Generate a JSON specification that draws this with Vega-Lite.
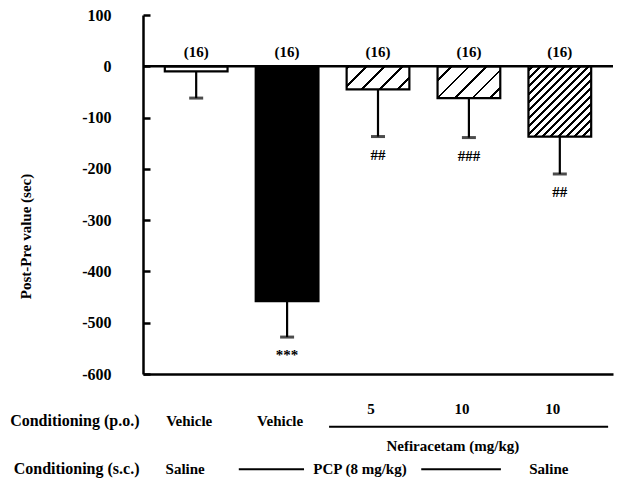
{
  "$schema": "https://vega.github.io/schema/vega-lite/v6.json",
  "padding": {"left": 9, "top": 7, "right": 3, "bottom": 0},
  "bounds": "flush",
  "spacing": 42,
  "config": {
    "view": {"stroke": null},
    "font": "Liberation Serif",
    "text": {"font": "Liberation Serif", "fontWeight": "bold", "fontSize": 15, "color": "black"}
  },
  "vconcat": [
    {
      "width": 470,
      "height": 359,
      "data": {
        "values": [
          {"grp": "Saline/Vehicle", "mean": -10, "low": -62, "n": "(16)", "sig": ""},
          {"grp": "PCP/Vehicle", "mean": -458, "low": -528, "n": "(16)", "sig": "***"},
          {"grp": "PCP/Nef 5", "mean": -45, "low": -137, "n": "(16)", "sig": "##"},
          {"grp": "PCP/Nef 10", "mean": -62, "low": -139, "n": "(16)", "sig": "###"},
          {"grp": "Saline/Nef 10", "mean": -137, "low": -210, "n": "(16)", "sig": "##"}
        ]
      },
      "layer": [
        {
          "mark": {"type": "bar", "stroke": "black", "strokeWidth": 2.2},
          "encoding": {
            "x": {
              "field": "grp", "type": "nominal",
              "scale": {"type": "band", "domain": ["Saline/Vehicle", "PCP/Vehicle", "PCP/Nef 5", "PCP/Nef 10", "Saline/Nef 10"], "paddingInner": 0.31, "paddingOuter": 0.24},
              "axis": {"labels": false, "ticks": false, "title": null, "domain": true, "domainWidth": 2.5, "domainColor": "black"}
            },
            "y": {
              "field": "mean", "type": "quantitative",
              "scale": {"domain": [-600, 100], "nice": false, "zero": false},
              "axis": {
                "values": [-600, -500, -400, -300, -200, -100, 0, 100],
                "labelExpr": "'' + datum.value",
                "labelFont": "Liberation Serif", "labelFontWeight": "bold", "labelFontSize": 16, "labelColor": "black",
                "labelPadding": 39,
                "tickSize": -7, "tickWidth": 2.5, "tickColor": "black",
                "domainWidth": 2.5, "domainColor": "black",
                "grid": false,
                "title": "Post-Pre value (sec)",
                "titleFont": "Liberation Serif", "titleFontWeight": "bold", "titleFontSize": 15, "titleColor": "black",
                "titleX": -110, "titleY": 221
              }
            },
            "fill": {
              "condition": [
                {"test": "datum.grp === 'PCP/Vehicle'", "value": "black"},
                {"test": "datum.grp === 'PCP/Nef 5'", "value": {
                  "gradient": "linear", "x1": 0, "y1": 0, "x2": 1.205, "y2": 0.444,
                  "stops": [
                    {"offset": 0, "color": "white"},
                    {"offset": 0.009, "color": "white"}, {"offset": 0.009, "color": "black"}, {"offset": 0.037, "color": "black"}, {"offset": 0.037, "color": "white"},
                    {"offset": 0.219, "color": "white"}, {"offset": 0.219, "color": "black"}, {"offset": 0.247, "color": "black"}, {"offset": 0.247, "color": "white"},
                    {"offset": 0.429, "color": "white"}, {"offset": 0.429, "color": "black"}, {"offset": 0.457, "color": "black"}, {"offset": 0.457, "color": "white"},
                    {"offset": 0.639, "color": "white"}, {"offset": 0.639, "color": "black"}, {"offset": 0.667, "color": "black"}, {"offset": 0.667, "color": "white"},
                    {"offset": 0.848, "color": "white"}, {"offset": 0.848, "color": "black"}, {"offset": 0.876, "color": "black"}, {"offset": 0.876, "color": "white"},
                    {"offset": 1, "color": "white"}
                  ]
                }},
                {"test": "datum.grp === 'PCP/Nef 10'", "value": {
                  "gradient": "linear", "x1": 0, "y1": 0, "x2": 1.199, "y2": 0.608,
                  "stops": [
                    {"offset": 0, "color": "white"},
                    {"offset": 0.135, "color": "white"}, {"offset": 0.135, "color": "black"}, {"offset": 0.161, "color": "black"}, {"offset": 0.161, "color": "white"},
                    {"offset": 0.320, "color": "white"}, {"offset": 0.320, "color": "black"}, {"offset": 0.346, "color": "black"}, {"offset": 0.346, "color": "white"},
                    {"offset": 0.506, "color": "white"}, {"offset": 0.506, "color": "black"}, {"offset": 0.532, "color": "black"}, {"offset": 0.532, "color": "white"},
                    {"offset": 0.691, "color": "white"}, {"offset": 0.691, "color": "black"}, {"offset": 0.717, "color": "black"}, {"offset": 0.717, "color": "white"},
                    {"offset": 0.876, "color": "white"}, {"offset": 0.876, "color": "black"}, {"offset": 0.902, "color": "black"}, {"offset": 0.902, "color": "white"},
                    {"offset": 1, "color": "white"}
                  ]
                }},
                {"test": "datum.grp === 'Saline/Nef 10'", "value": {
                  "gradient": "linear", "x1": 0, "y1": 0, "x2": 0.940, "y2": 1.054,
                  "stops": [
                    {"offset": 0, "color": "white"},
                    {"offset": 0.0195, "color": "white"}, {"offset": 0.0195, "color": "black"}, {"offset": 0.0405, "color": "black"}, {"offset": 0.0405, "color": "white"},
                    {"offset": 0.0795, "color": "white"}, {"offset": 0.0795, "color": "black"}, {"offset": 0.1005, "color": "black"}, {"offset": 0.1005, "color": "white"},
                    {"offset": 0.1395, "color": "white"}, {"offset": 0.1395, "color": "black"}, {"offset": 0.1605, "color": "black"}, {"offset": 0.1605, "color": "white"},
                    {"offset": 0.2005, "color": "white"}, {"offset": 0.2005, "color": "black"}, {"offset": 0.2215, "color": "black"}, {"offset": 0.2215, "color": "white"},
                    {"offset": 0.2605, "color": "white"}, {"offset": 0.2605, "color": "black"}, {"offset": 0.2815, "color": "black"}, {"offset": 0.2815, "color": "white"},
                    {"offset": 0.3205, "color": "white"}, {"offset": 0.3205, "color": "black"}, {"offset": 0.3415, "color": "black"}, {"offset": 0.3415, "color": "white"},
                    {"offset": 0.3805, "color": "white"}, {"offset": 0.3805, "color": "black"}, {"offset": 0.4015, "color": "black"}, {"offset": 0.4015, "color": "white"},
                    {"offset": 0.4405, "color": "white"}, {"offset": 0.4405, "color": "black"}, {"offset": 0.4615, "color": "black"}, {"offset": 0.4615, "color": "white"},
                    {"offset": 0.5005, "color": "white"}, {"offset": 0.5005, "color": "black"}, {"offset": 0.5215, "color": "black"}, {"offset": 0.5215, "color": "white"},
                    {"offset": 0.5605, "color": "white"}, {"offset": 0.5605, "color": "black"}, {"offset": 0.5815, "color": "black"}, {"offset": 0.5815, "color": "white"},
                    {"offset": 0.6215, "color": "white"}, {"offset": 0.6215, "color": "black"}, {"offset": 0.6425, "color": "black"}, {"offset": 0.6425, "color": "white"},
                    {"offset": 0.6815, "color": "white"}, {"offset": 0.6815, "color": "black"}, {"offset": 0.7025, "color": "black"}, {"offset": 0.7025, "color": "white"},
                    {"offset": 0.7415, "color": "white"}, {"offset": 0.7415, "color": "black"}, {"offset": 0.7625, "color": "black"}, {"offset": 0.7625, "color": "white"},
                    {"offset": 0.8015, "color": "white"}, {"offset": 0.8015, "color": "black"}, {"offset": 0.8225, "color": "black"}, {"offset": 0.8225, "color": "white"},
                    {"offset": 0.8615, "color": "white"}, {"offset": 0.8615, "color": "black"}, {"offset": 0.8825, "color": "black"}, {"offset": 0.8825, "color": "white"},
                    {"offset": 0.9215, "color": "white"}, {"offset": 0.9215, "color": "black"}, {"offset": 0.9425, "color": "black"}, {"offset": 0.9425, "color": "white"},
                    {"offset": 0.9815, "color": "white"}, {"offset": 0.9815, "color": "black"}, {"offset": 1, "color": "black"}
                  ]
                }}
              ],
              "value": "white"
            }
          }
        },
        {
          "data": {"values": [{"level": 0}]},
          "mark": {"type": "rule", "color": "black", "strokeWidth": 2.5},
          "encoding": {"y": {"field": "level", "type": "quantitative"}}
        },
        {
          "mark": {"type": "rule", "color": "black", "strokeWidth": 2.2},
          "encoding": {
            "x": {"field": "grp", "type": "nominal"},
            "y": {"field": "mean", "type": "quantitative"},
            "y2": {"field": "low"}
          }
        },
        {
          "mark": {"type": "tick", "color": "black", "size": 14, "thickness": 3},
          "encoding": {
            "x": {"field": "grp", "type": "nominal"},
            "y": {"field": "low", "type": "quantitative"}
          }
        },
        {
          "mark": {"type": "text", "baseline": "bottom", "dy": -6},
          "encoding": {
            "x": {"field": "grp", "type": "nominal"},
            "y": {"datum": 0},
            "text": {"field": "n"}
          }
        },
        {
          "mark": {"type": "text", "baseline": "top", "dy": 11},
          "encoding": {
            "x": {"field": "grp", "type": "nominal"},
            "y": {"field": "low", "type": "quantitative"},
            "text": {"field": "sig"}
          }
        }
      ]
    },
    {
      "width": 470,
      "height": 58,
      "layer": [
        {
          "data": {"values": [
            {"grp": "Saline/Vehicle", "row": "Conditioning (p.o.)", "label": "Vehicle"},
            {"grp": "PCP/Vehicle", "row": "Conditioning (p.o.)", "label": "Vehicle"}
          ]},
          "mark": {"type": "text", "dx": -7},
          "encoding": {
            "x": {
              "field": "grp", "type": "nominal",
              "scale": {"type": "band", "domain": ["Saline/Vehicle", "PCP/Vehicle", "PCP/Nef 5", "PCP/Nef 10", "Saline/Nef 10"], "paddingInner": 0.31, "paddingOuter": 0.24},
              "axis": null
            },
            "y": {
              "field": "row", "type": "nominal",
              "scale": {"type": "band", "domain": ["Conditioning (p.o.)", "Conditioning (s.c.)"], "paddingInner": 0.8, "paddingOuter": 0},
              "axis": {
                "title": null, "domain": false, "ticks": false, "labelPadding": 4,
                "labelFont": "Liberation Serif", "labelFontWeight": "bold", "labelFontSize": 16, "labelColor": "black"
              }
            },
            "text": {"field": "label"}
          }
        },
        {
          "data": {"values": [
            {"grp": "PCP/Nef 5", "row": "Conditioning (p.o.)", "label": "5"},
            {"grp": "PCP/Nef 10", "row": "Conditioning (p.o.)", "label": "10"},
            {"grp": "Saline/Nef 10", "row": "Conditioning (p.o.)", "label": "10"}
          ]},
          "mark": {"type": "text", "dx": -7, "dy": -12},
          "encoding": {
            "x": {"field": "grp", "type": "nominal"},
            "y": {"field": "row", "type": "nominal"},
            "text": {"field": "label"}
          }
        },
        {
          "data": {"values": [
            {"grp": "PCP/Nef 10", "row": "Conditioning (p.o.)", "label": "Nefiracetam (mg/kg)"}
          ]},
          "mark": {"type": "text", "dx": -16, "dy": 25},
          "encoding": {
            "x": {"field": "grp", "type": "nominal"},
            "y": {"field": "row", "type": "nominal"},
            "text": {"field": "label"}
          }
        },
        {
          "data": {"values": [
            {"grp": "Saline/Vehicle", "row": "Conditioning (s.c.)", "label": "Saline"},
            {"grp": "Saline/Nef 10", "row": "Conditioning (s.c.)", "label": "Saline"}
          ]},
          "mark": {"type": "text", "dx": -11},
          "encoding": {
            "x": {"field": "grp", "type": "nominal"},
            "y": {"field": "row", "type": "nominal"},
            "text": {"field": "label"}
          }
        },
        {
          "data": {"values": [
            {"grp": "PCP/Nef 5", "row": "Conditioning (s.c.)", "label": "PCP (8 mg/kg)"}
          ]},
          "mark": {"type": "text", "dx": -18},
          "encoding": {
            "x": {"field": "grp", "type": "nominal"},
            "y": {"field": "row", "type": "nominal"},
            "text": {"field": "label"}
          }
        },
        {
          "data": {"values": [{"from": "PCP/Nef 5", "to": "Saline/Nef 10", "row": "Conditioning (p.o.)"}]},
          "mark": {"type": "rule", "color": "black", "strokeWidth": 2},
          "encoding": {
            "x": {"field": "from", "type": "nominal", "bandPosition": -0.28},
            "x2": {"field": "to", "bandPosition": 1.27},
            "y": {"field": "row", "type": "nominal", "bandPosition": 1.117}
          }
        },
        {
          "data": {"values": [{"from": "PCP/Vehicle", "row": "Conditioning (s.c.)"}]},
          "mark": {"type": "rule", "color": "black", "strokeWidth": 2},
          "encoding": {
            "x": {"field": "from", "type": "nominal", "bandPosition": -0.27},
            "x2": {"field": "from", "bandPosition": 0.77},
            "y": {"field": "row", "type": "nominal"}
          }
        },
        {
          "data": {"values": [{"from": "PCP/Nef 10", "row": "Conditioning (s.c.)"}]},
          "mark": {"type": "rule", "color": "black", "strokeWidth": 2},
          "encoding": {
            "x": {"field": "from", "type": "nominal", "bandPosition": -0.26},
            "x2": {"field": "from", "bandPosition": 1.01},
            "y": {"field": "row", "type": "nominal"}
          }
        }
      ]
    }
  ]
}
